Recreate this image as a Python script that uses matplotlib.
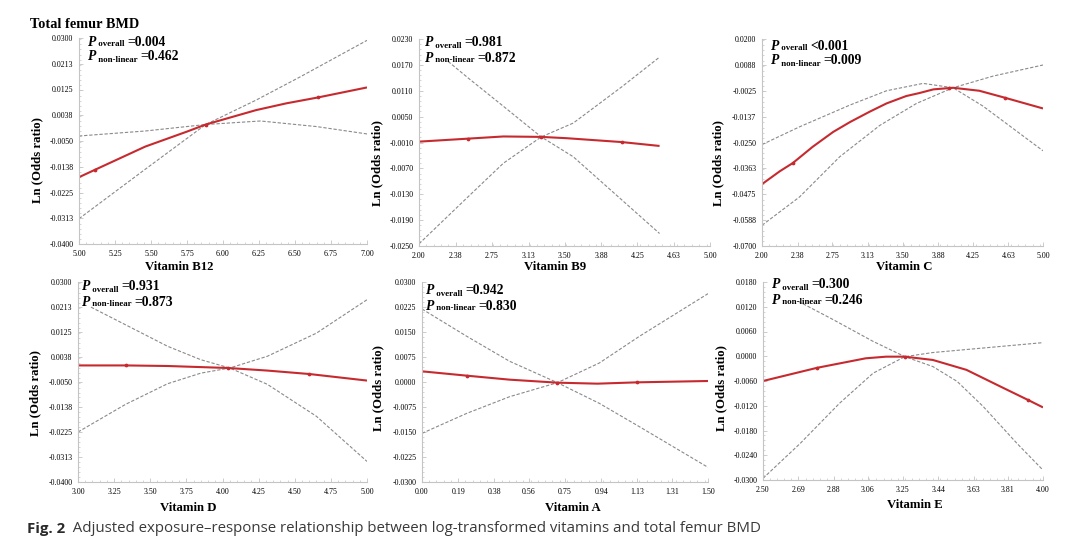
import matplotlib
matplotlib.use("Agg")
import matplotlib.pyplot as plt
from matplotlib.ticker import AutoMinorLocator

# --- Data (x = log vitamin, y = ln odds ratio) ---
# Vitamin B12
b12_x = [5.00, 5.11, 5.46, 5.75, 5.88, 6.23, 6.44, 6.66, 7.00]
b12_fit = [-0.0173, -0.0148, -0.0069, -0.0018, 0.0006, 0.0055, 0.0078, 0.0098, 0.0132]
b12_ci_a_x = [5.00, 5.46, 5.88, 6.23, 6.54, 7.00]
b12_ci_a = [-0.0314, -0.0146, 0.0006, 0.0089, 0.0169, 0.0292]
b12_ci_b_x = [5.00, 5.46, 5.88, 6.26, 6.65, 7.00]
b12_ci_b = [-0.0033, -0.0016, 0.0006, 0.0018, -0.0001, -0.0026]
b12_knot_x = [5.11, 5.88, 6.66]
b12_knot_y = [-0.0148, 0.0006, 0.0098]

# Vitamin B9
b9_x = [2.00, 2.51, 2.87, 3.26, 3.52, 4.09, 4.48]
b9_fit = [-0.0008, -0.0001, 0.0004, 0.0003, 0.0000, -0.0009, -0.0018]
b9_ci_a_x = [2.00, 2.51, 2.87, 3.26, 3.59, 4.09, 4.48]
b9_ci_a = [-0.0245, -0.0135, -0.0058, 0.0003, 0.0035, 0.0119, 0.0188]
b9_ci_b_x = [2.30, 2.51, 2.87, 3.26, 3.59, 4.09, 4.48]
b9_ci_b = [0.0178, 0.0139, 0.0074, 0.0003, -0.0043, -0.0143, -0.0221]
b9_knot_x = [2.51, 3.26, 4.09]
b9_knot_y = [-0.0001, 0.0003, -0.0009]

# Vitamin C
c_x = [2.00, 2.19, 2.33, 2.54, 2.76, 2.94, 3.15, 3.33, 3.54, 3.68, 3.83, 4.04, 4.32, 4.59, 5.00]
c_fit = [-0.0431, -0.0375, -0.0339, -0.0269, -0.0204, -0.0161, -0.0116, -0.0080,
         -0.0048, -0.0035, -0.0019, -0.0012, -0.0025, -0.0055, -0.0102]
c_ci_a_x = [2.00, 2.40, 2.83, 3.26, 3.65, 4.04, 4.47, 5.00]
c_ci_a = [-0.0610, -0.0487, -0.0312, -0.0175, -0.0080, -0.0012, 0.0039, 0.0087]
c_ci_b_x = [2.00, 2.40, 2.94, 3.33, 3.72, 4.04, 4.36, 4.68, 5.00]
c_ci_b = [-0.0259, -0.0182, -0.0087, -0.0025, 0.0007, -0.0012, -0.0092, -0.0189, -0.0286]
c_knot_x = [2.33, 4.00, 4.59]
c_knot_y = [-0.0339, -0.0012, -0.0055]

# Vitamin D
d_x = [3.00, 3.33, 3.62, 4.04, 4.31, 4.60, 5.00]
d_fit = [0.0008, 0.0008, 0.0006, -0.0001, -0.0010, -0.0022, -0.0045]
d_ci_a_x = [3.00, 3.33, 3.62, 3.85, 4.05, 4.31, 4.65, 5.00]
d_ci_a = [-0.0225, -0.0128, -0.0056, -0.0019, -0.0001, 0.0040, 0.0121, 0.0238]
d_ci_b_x = [3.09, 3.33, 3.62, 3.85, 4.05, 4.31, 4.65, 5.00]
d_ci_b = [0.0212, 0.0150, 0.0075, 0.0028, -0.0001, -0.0058, -0.0170, -0.0328]
d_knot_x = [3.33, 4.04, 4.60]
d_knot_y = [0.0008, -0.0001, -0.0022]

# Vitamin A
a_x = [0.00, 0.235, 0.46, 0.71, 0.92, 1.13, 1.50]
a_fit = [0.0032, 0.0019, 0.0007, -0.0002, -0.0005, -0.0001, 0.0003]
a_ci_x = [0.00, 0.235, 0.46, 0.71, 0.93, 1.14, 1.50]
a_ci_a = [-0.0154, -0.0094, -0.0044, -0.0002, 0.0057, 0.0137, 0.0265]
a_ci_b = [0.0219, 0.0137, 0.0062, -0.0002, -0.0064, -0.0134, -0.0256]
a_knot_x = [0.235, 0.71, 1.13]
a_knot_y = [0.0019, -0.0002, -0.0001]

# Vitamin E
e_x = [2.50, 2.79, 3.05, 3.16, 3.26, 3.41, 3.59, 3.77, 3.92, 4.00]
e_fit = [-0.0060, -0.0028, -0.0005, -0.0001, -0.0001, -0.0009, -0.0033, -0.0073, -0.0106, -0.0124]
e_ci_a_x = [2.50, 2.70, 2.91, 3.09, 3.26, 3.41, 3.68, 4.00]
e_ci_a = [-0.0296, -0.0211, -0.0114, -0.0041, -0.0001, 0.0009, 0.0020, 0.0033]
e_ci_b_x = [2.69, 2.875, 3.09, 3.26, 3.41, 3.54, 3.68, 3.86, 4.00]
e_ci_b = [0.0133, 0.0089, 0.0036, -0.0001, -0.0025, -0.0061, -0.0122, -0.0211, -0.0276]
e_knot_x = [2.79, 3.26, 3.92]
e_knot_y = [-0.0028, -0.0001, -0.0106]

# Tick values
b12_xticks = [5.00, 5.25, 5.50, 5.75, 6.00, 6.25, 6.50, 6.75, 7.00]
b9_xticks = [2.00, 2.38, 2.75, 3.13, 3.50, 3.88, 4.25, 4.63, 5.00]
c_xticks = [2.00, 2.38, 2.75, 3.13, 3.50, 3.88, 4.25, 4.63, 5.00]
d_xticks = [3.00, 3.25, 3.50, 3.75, 4.00, 4.25, 4.50, 4.75, 5.00]
a_xticks = [0.00, 0.19, 0.38, 0.56, 0.75, 0.94, 1.13, 1.31, 1.50]
e_xticks = [2.50, 2.69, 2.88, 3.06, 3.25, 3.44, 3.63, 3.81, 4.00]
b12_yticks = [-0.0400, -0.0313, -0.0225, -0.0138, -0.0050, 0.0038, 0.0125, 0.0213, 0.0300]
b9_yticks = [-0.0250, -0.0190, -0.0130, -0.0070, -0.0010, 0.0050, 0.0110, 0.0170, 0.0230]
c_yticks = [-0.0700, -0.0588, -0.0475, -0.0363, -0.0250, -0.0137, -0.0025, 0.0088, 0.0200]
d_yticks = [-0.0400, -0.0313, -0.0225, -0.0138, -0.0050, 0.0038, 0.0125, 0.0213, 0.0300]
a_yticks = [-0.0300, -0.0225, -0.0150, -0.0075, 0.0000, 0.0075, 0.0150, 0.0225, 0.0300]
e_yticks = [-0.0300, -0.0240, -0.0180, -0.0120, -0.0060, 0.0000, 0.0060, 0.0120, 0.0180]

# --- Style ---
W, H, DPI = 1080, 550, 100
SERIF = ["Liberation Serif", "DejaVu Serif"]
SANS = ["Open Sans", "DejaVu Sans"]
RED = "#c62a2f"
GRAY = "#8a8a8a"
AXIS_GRAY = "#c4c4c4"

# per panel: axes box in pixels (left, top, right, bottom), p-text position,
# x-label centre (axes fraction x, px below axis), y-label centre (px left, axes fraction y)
panels = [
    dict(name="Vitamin B12", box=(79, 38, 367, 244), x=b12_x, fit=b12_fit,
         ca=(b12_ci_a_x, b12_ci_a), cb=(b12_ci_b_x, b12_ci_b), knots=(b12_knot_x, b12_knot_y),
         xt=b12_xticks, yt=b12_yticks, p=("=0.004", "=0.462"), ptxt=(88, 42),
         xl=(0.347, 23), yl=(42, 0.408)),
    dict(name="Vitamin B9", box=(419, 39, 710, 246), x=b9_x, fit=b9_fit,
         ca=(b9_ci_a_x, b9_ci_a), cb=(b9_ci_b_x, b9_ci_b), knots=(b9_knot_x, b9_knot_y),
         xt=b9_xticks, yt=b9_yticks, p=("=0.981", "=0.872"), ptxt=(425, 43),
         xl=(0.467, 21), yl=(42, 0.40)),
    dict(name="Vitamin C", box=(762, 39, 1043, 246), x=c_x, fit=c_fit,
         ca=(c_ci_a_x, c_ci_a), cb=(c_ci_b_x, c_ci_b), knots=(c_knot_x, c_knot_y),
         xt=c_xticks, yt=c_yticks, p=("<0.001", "=0.009"), ptxt=(771, 46),
         xl=(0.505, 21), yl=(44, 0.40)),
    dict(name="Vitamin D", box=(78, 282, 367, 482), x=d_x, fit=d_fit,
         ca=(d_ci_a_x, d_ci_a), cb=(d_ci_b_x, d_ci_b), knots=(d_knot_x, d_knot_y),
         xt=d_xticks, yt=d_yticks, p=("=0.931", "=0.873"), ptxt=(82, 287),
         xl=(0.381, 26), yl=(43, 0.445)),
    dict(name="Vitamin A", box=(422, 282, 708, 482), x=a_x, fit=a_fit,
         ca=(a_ci_x, a_ci_a), cb=(a_ci_x, a_ci_b), knots=(a_knot_x, a_knot_y),
         xt=a_xticks, yt=a_yticks, p=("=0.942", "=0.830"), ptxt=(426, 291),
         xl=(0.528, 26), yl=(44, 0.47)),
    dict(name="Vitamin E", box=(763, 282, 1043, 480), x=e_x, fit=e_fit,
         ca=(e_ci_a_x, e_ci_a), cb=(e_ci_b_x, e_ci_b), knots=(e_knot_x, e_knot_y),
         xt=e_xticks, yt=e_yticks, p=("=0.300", "=0.246"), ptxt=(772, 285),
         xl=(0.543, 25), yl=(42, 0.465)),
]


def p_text(fig, x_px, y_px, sub, val):
    # "P" + small "overall"/"non-linear" + value, chained left to right
    head = fig.text(x_px / W, 1 - y_px / H, "P", fontsize=9.8, fontweight="bold",
                    style="italic", family=SERIF, va="center", ha="left")
    mid = plt.annotate(f" {sub} ", xy=(1, 0), xycoords=head, va="bottom", ha="left",
                       fontsize=6.4, fontweight="bold", family=SERIF,
                       annotation_clip=False)
    plt.annotate(val, xy=(1, 0), xycoords=mid, va="bottom", ha="left",
                 fontsize=9.8, fontweight="bold", family=SERIF, annotation_clip=False)


fig = plt.figure(figsize=(W / DPI, H / DPI), dpi=DPI)

for pnl in panels:
    l, t, r, b = pnl["box"]
    ax = fig.add_axes([l / W, 1 - b / H, (r - l) / W, (b - t) / H])
    xt, yt = pnl["xt"], pnl["yt"]

    ax.plot(*pnl["ca"], color=GRAY, lw=0.8, dashes=(3, 1.6))
    ax.plot(*pnl["cb"], color=GRAY, lw=0.8, dashes=(3, 1.6))
    ax.plot(pnl["x"], pnl["fit"], color=RED, lw=1.5, solid_capstyle="butt")
    ax.plot(*pnl["knots"], ls="none", marker="o", ms=1.7, color=RED)

    ax.set_xlim(xt[0], xt[-1])
    ax.set_ylim(yt[0], yt[-1])
    ax.set_xticks(xt)
    ax.set_xticklabels([f"{v:.2f}" for v in xt])
    ax.set_yticks(yt)
    ax.set_yticklabels([f"{v:.4f}" for v in yt])
    ax.xaxis.set_minor_locator(AutoMinorLocator(5))
    ax.yaxis.set_minor_locator(AutoMinorLocator(5))
    for lab in ax.get_xticklabels() + ax.get_yticklabels():
        lab.set_family(SERIF)
        lab.set_fontsize(5.7)

    for side in ("top", "right"):
        ax.spines[side].set_visible(False)
    for side in ("left", "bottom"):
        ax.spines[side].set_color(AXIS_GRAY)
        ax.spines[side].set_linewidth(0.8)
    ax.tick_params(which="major", direction="in", length=3, width=0.6,
                   color=AXIS_GRAY, pad=4)
    ax.tick_params(which="minor", direction="in", length=1.5, width=0.5,
                   color=AXIS_GRAY)

    ax.set_xlabel(pnl["name"], fontsize=9.2, fontweight="bold", family=SERIF)
    ax.xaxis.label.set_va("center")
    ax.xaxis.set_label_coords(pnl["xl"][0], -pnl["xl"][1] / (b - t))
    ax.set_ylabel("Ln (Odds ratio)", fontsize=9.2, fontweight="bold", family=SERIF)
    ax.yaxis.label.set_va("center")
    ax.yaxis.set_label_coords(-pnl["yl"][0] / (r - l), pnl["yl"][1])

    px, py = pnl["ptxt"]
    p_text(fig, px, py, "overall", pnl["p"][0])
    p_text(fig, px, py + 15, "non-linear", pnl["p"][1])

fig.text(30 / W, 1 - 24 / H, "Total femur BMD", fontsize=10.3, fontweight="bold",
         family=SERIF, va="center", ha="left")

fig_lab = fig.text(27 / W, 1 - 529 / H, "Fig. 2", fontsize=10.8, fontweight="bold",
                   family=SANS, va="center", ha="left", color="#2a2a2a")
plt.annotate("  Adjusted exposure\u2013response relationship between log-transformed "
             "vitamins and total femur BMD", xy=(1, 0), xycoords=fig_lab,
             va="bottom", ha="left", fontsize=10.8, color="#3a3a3a",
             family=SANS, annotation_clip=False)

fig.savefig("out.png", dpi=DPI)
